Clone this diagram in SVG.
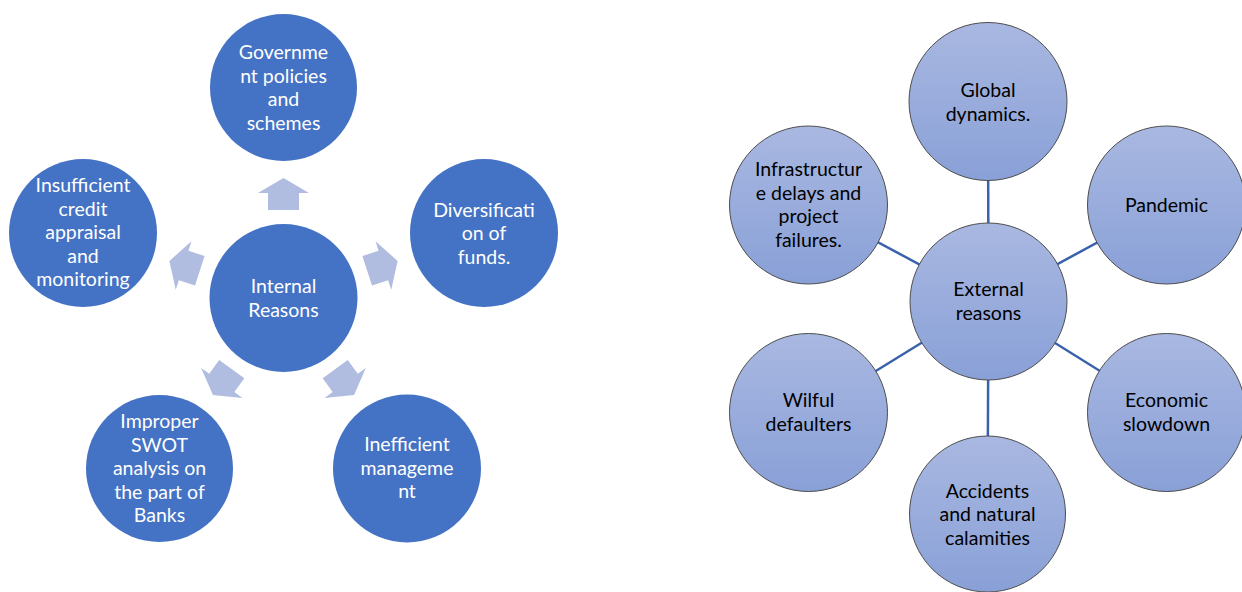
<svg xmlns="http://www.w3.org/2000/svg" width="1242" height="592" viewBox="0 0 1242 592">
<style>
.l{fill:#4472C4}
.lt{fill:#ffffff;font-family:Lato,"Open Sans",sans-serif;font-size:19.5px;text-anchor:middle}
.r{fill:url(#g);stroke:#4d4d4d;stroke-width:1}
.rt{fill:#000000;font-family:Lato,"Open Sans",sans-serif;font-size:19.5px;text-anchor:middle}
.arr{fill:#B0BCE0}
.ln{stroke:#3A62AC;stroke-width:2.5;fill:none}
</style>
<defs>
<linearGradient id="g" x1="0" y1="0" x2="0" y2="1">
<stop offset="0" stop-color="#A9B8E1"/>
<stop offset="1" stop-color="#89A0D7"/>
</linearGradient>
<path id="arr" d="M0,-120 L25.5,-105 L15.5,-105 L15.5,-88 L-15.5,-88 L-15.5,-105 L-25.5,-105 Z"/>
</defs>
<rect width="1242" height="592" fill="#ffffff"/>
<g id="connectors">
<use href="#arr" class="arr" transform="translate(283.5,298)"/>
<use href="#arr" class="arr" transform="translate(283.5,298) rotate(72)"/>
<use href="#arr" class="arr" transform="translate(283.5,298) rotate(144)"/>
<use href="#arr" class="arr" transform="translate(283.5,298) rotate(216)"/>
<use href="#arr" class="arr" transform="translate(283.5,298) rotate(288)"/>
<line class="ln" x1="988.5" y1="301.5" x2="988" y2="101.5"/>
<line class="ln" x1="988.5" y1="301.5" x2="808.5" y2="205"/>
<line class="ln" x1="988.5" y1="301.5" x2="1166.5" y2="205"/>
<line class="ln" x1="988.5" y1="301.5" x2="808.5" y2="412.5"/>
<line class="ln" x1="988.5" y1="301.5" x2="1166.5" y2="412.5"/>
<line class="ln" x1="988.5" y1="301.5" x2="987.5" y2="514"/>
</g>
<g id="internal">
<circle class="l" cx="283.5" cy="298" r="74"/>
<text class="lt" x="283.5" y="293">Internal</text>
<text class="lt" x="283.5" y="316.5">Reasons</text>
</g>
<g id="government">
<circle class="l" cx="283.5" cy="87.5" r="73.5"/>
<text class="lt" x="283.5" y="59">Governme</text>
<text class="lt" x="283.5" y="82.5">nt policies</text>
<text class="lt" x="283.5" y="106">and</text>
<text class="lt" x="283.5" y="129.5">schemes</text>
</g>
<g id="diversification">
<circle class="l" cx="484" cy="233" r="74"/>
<text class="lt" x="484" y="216.5">Diversificati</text>
<text class="lt" x="484" y="240">on of</text>
<text class="lt" x="484" y="263.5">funds.</text>
</g>
<g id="inefficient">
<circle class="l" cx="407" cy="468.5" r="74"/>
<text class="lt" x="407" y="451">Inefficient</text>
<text class="lt" x="407" y="474.5">manageme</text>
<text class="lt" x="407" y="498">nt</text>
</g>
<g id="swot">
<circle class="l" cx="159.5" cy="468.5" r="73.5"/>
<text class="lt" x="159.5" y="428">Improper</text>
<text class="lt" x="159.5" y="451.5">SWOT</text>
<text class="lt" x="159.5" y="475">analysis on</text>
<text class="lt" x="159.5" y="498.5">the part of</text>
<text class="lt" x="159.5" y="522">Banks</text>
</g>
<g id="credit">
<circle class="l" cx="83" cy="233" r="74"/>
<text class="lt" x="83" y="192">Insufficient</text>
<text class="lt" x="83" y="215.5">credit</text>
<text class="lt" x="83" y="239">appraisal</text>
<text class="lt" x="83" y="262.5">and</text>
<text class="lt" x="83" y="286">monitoring</text>
</g>
<g id="external">
<circle class="r" cx="988.5" cy="301.5" r="78.5"/>
<text class="rt" x="988.5" y="296">External</text>
<text class="rt" x="988.5" y="319.5">reasons</text>
</g>
<g id="global">
<circle class="r" cx="988" cy="101.5" r="79"/>
<text class="rt" x="988" y="97">Global</text>
<text class="rt" x="988" y="120.5">dynamics.</text>
</g>
<g id="infrastructure">
<circle class="r" cx="808.5" cy="205" r="79"/>
<text class="rt" x="808.5" y="176">Infrastructur</text>
<text class="rt" x="808.5" y="199.5">e delays and</text>
<text class="rt" x="808.5" y="223">project</text>
<text class="rt" x="808.5" y="246.5">failures.</text>
</g>
<g id="pandemic">
<circle class="r" cx="1166.5" cy="205" r="79"/>
<text class="rt" x="1166.5" y="211.5">Pandemic</text>
</g>
<g id="wilful">
<circle class="r" cx="808.5" cy="412.5" r="79"/>
<text class="rt" x="808.5" y="407">Wilful</text>
<text class="rt" x="808.5" y="430.5">defaulters</text>
</g>
<g id="economic">
<circle class="r" cx="1166.5" cy="412.5" r="79"/>
<text class="rt" x="1166.5" y="407">Economic</text>
<text class="rt" x="1166.5" y="430.5">slowdown</text>
</g>
<g id="accidents">
<circle class="r" cx="987.5" cy="514" r="78"/>
<text class="rt" x="987.5" y="497.5">Accidents</text>
<text class="rt" x="987.5" y="521">and natural</text>
<text class="rt" x="987.5" y="544.5">calamities</text>
</g>
</svg>
